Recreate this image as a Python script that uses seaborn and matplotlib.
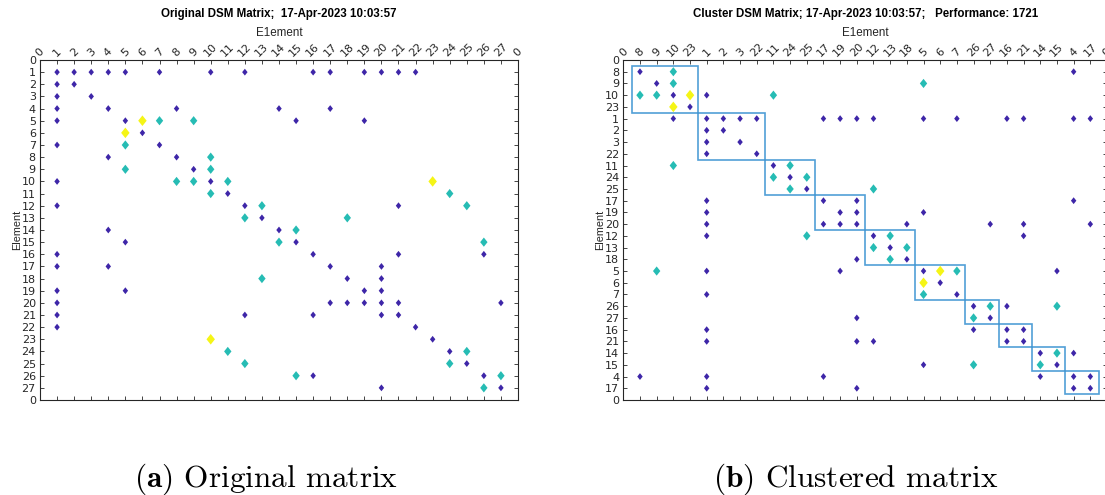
import matplotlib
matplotlib.use("Agg")
import matplotlib.pyplot as plt
import seaborn as sns
import pandas as pd
from matplotlib.patches import Rectangle
from matplotlib.path import Path

# ---------------- data ----------------
# DSM links per row element: level 1 (weak), 2 (medium), 3 (strong)
weak_links = {
    1: [1, 2, 3, 4, 5, 7, 10, 12, 16, 17, 19, 20, 21, 22],
    2: [1, 2], 3: [1, 3], 4: [1, 4, 8, 14, 17], 5: [1, 5, 15, 19],
    6: [6], 7: [1, 7], 8: [4, 8], 9: [9], 10: [1, 10], 11: [11],
    12: [1, 12, 21], 13: [13], 14: [4, 14], 15: [5, 15],
    16: [1, 16, 21, 26], 17: [1, 4, 17, 20], 18: [18, 20],
    19: [1, 5, 19, 20], 20: [1, 17, 18, 19, 20, 21, 27],
    21: [1, 12, 16, 20, 21], 22: [1, 22], 23: [23], 24: [24], 25: [25],
    26: [16, 26], 27: [20, 27],
}
medium_links = {
    5: [7, 9], 7: [5], 8: [10], 9: [5, 10], 10: [8, 9, 11], 11: [10, 24],
    12: [13, 25], 13: [12, 18], 14: [15], 15: [14, 26], 18: [13],
    24: [11, 25], 25: [12, 24], 26: [15, 27], 27: [26],
}
strong_links = {5: [6], 6: [5], 10: [23], 23: [10]}

n_elements = 27
cluster_order = [8, 9, 10, 23, 1, 2, 3, 22, 11, 24, 25, 17, 19, 20, 12, 13, 18,
                 5, 6, 7, 26, 27, 16, 21, 14, 15, 4, 17]
cluster_sizes = [4, 4, 3, 3, 3, 3, 2, 2, 2, 2]

title_orig = "Original DSM Matrix;  17-Apr-2023 10:03:57"
title_clust = "Cluster DSM Matrix; 17-Apr-2023 10:03:57;   Performance: 1721"
axis_label_top = "E1ement"
axis_label_side = "Element"
caption_a = ("(a)", "Original matrix")
caption_b = ("(b)", "Clustered matrix")

level_colors = {1: "#3e26a8", 2: "#26bcb4", 3: "#f5f516"}
level_sizes = {1: 24, 2: 44, 3: 58}

# ---------------- build tables ----------------
records = []
for lvl, links in [(1, weak_links), (2, medium_links), (3, strong_links)]:
    for r, cols in links.items():
        for c in cols:
            records.append((r, c, lvl))
orig_df = pd.DataFrame(records, columns=["row", "col", "level"]).sort_values("level")

lookup = {(r, c): l for r, c, l in records}
crec = []
for i, ei in enumerate(cluster_order, start=1):
    for j, ej in enumerate(cluster_order, start=1):
        if ei == ej and i != j:
            continue
        lvl = lookup.get((ei, ej))
        if lvl:
            crec.append((i, j, lvl))
clust_df = pd.DataFrame(crec, columns=["row", "col", "level"]).sort_values("level")

# ---------------- styling ----------------
sns.set_theme(style="white")
plt.rcParams["font.family"] = ["Liberation Sans", "DejaVu Sans"]
plt.rcParams["mathtext.fontset"] = "cm"

W, H = 1105, 495
fig = plt.figure(figsize=(W / 100, H / 100), dpi=100)
fig.patch.set_facecolor("white")

diamond = Path([(-0.8, 0), (0, 1), (0.8, 0), (0, -1), (-0.8, 0)],
               [Path.MOVETO, Path.LINETO, Path.LINETO, Path.LINETO, Path.CLOSEPOLY])

gray = "#262626"


def style_axes(ax, n, labels, title, width_px):
    ax.set_xlim(0, n + 1)
    ax.set_ylim(n + 1, 0)
    ticks = list(range(n + 2))
    ax.xaxis.tick_top()
    ax.set_xticks(ticks)
    ax.set_xticklabels(labels, rotation=45, ha="center", va="bottom",
                       family="DejaVu Sans")
    ax.set_yticks(ticks)
    ax.set_yticklabels(labels, family="DejaVu Sans")
    ax.tick_params(axis="both", direction="in", length=3, width=0.6, color=gray,
                   labelsize=8, labelcolor=gray, top=True, bottom=True,
                   left=True, right=True, labeltop=True, labelbottom=False,
                   labelleft=True, labelright=False)
    ax.tick_params(axis="x", pad=1.5)
    ax.tick_params(axis="y", pad=3)
    for sp in ax.spines.values():
        sp.set_visible(True)
        sp.set_color(gray)
        sp.set_linewidth(0.8)
    ax.set_xlabel(axis_label_top, fontsize=8.4, color=gray)
    ax.xaxis.set_label_position("top")
    ax.xaxis.set_label_coords(0.5, (400 - 35.5) / 340)
    ax.set_ylabel(axis_label_side, fontsize=7.8, color=gray)
    ax.yaxis.set_label_coords(-18 / width_px, 0.5)
    ax.set_title(title, fontsize=8.3, fontweight="bold", color="black",
                 y=(400 - 14) / 340, va="center", pad=0)
    ax.grid(False)


# ---- original matrix ----
ax1 = fig.add_axes([40 / W, 1 - 400 / H, 478 / W, 340 / H])
sns.scatterplot(data=orig_df, x="col", y="row", hue="level", palette=level_colors,
                size="level", sizes=level_sizes, marker=diamond, linewidth=0,
                legend=False, ax=ax1, zorder=3)
labels1 = ["0"] + [str(k) for k in range(1, n_elements + 1)] + ["0"]
style_axes(ax1, n_elements, labels1, title_orig, 478)

# ---- clustered matrix ----
ax2 = fig.add_axes([623.3 / W, 1 - 400 / H, 483.7 / W, 340 / H])
sns.scatterplot(data=clust_df, x="col", y="row", hue="level", palette=level_colors,
                size="level", sizes=level_sizes, marker=diamond, linewidth=0,
                legend=False, ax=ax2, zorder=3)
nc = len(cluster_order)
labels2 = ["0"] + [str(k) for k in cluster_order] + ["0"]
style_axes(ax2, nc, labels2, title_clust, 483.7)

start = 0
for sz in cluster_sizes:
    ax2.add_patch(Rectangle((start + 0.5, start + 0.5), sz, sz, fill=False,
                            edgecolor="#3f95d3", linewidth=1.2, alpha=0.9, zorder=2))
    start += sz

# ---- captions ----
for cx, (tag, text) in [(266, caption_a), (856, caption_b)]:
    fig.text(cx / W, 1 - 479 / H, r"$\mathbf{" + tag + "}$ " + text,
             fontsize=22.5, family="cmr10", ha="center", va="center", color="black")

fig.savefig("out.png", dpi=100, facecolor="white")
